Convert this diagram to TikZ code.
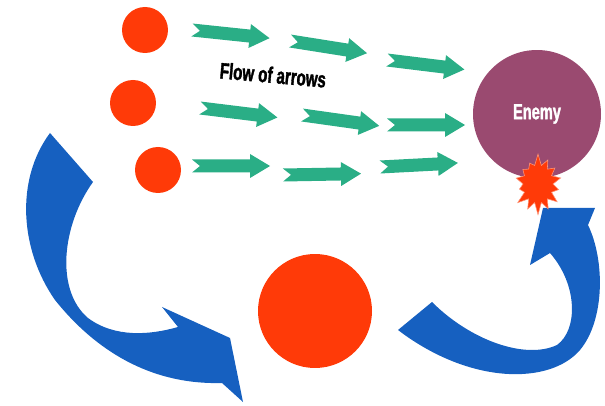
\documentclass[tikz,border=0pt]{standalone}
\usepackage{fontspec}
\usepackage{tikz}
\usetikzlibrary{shapes,shapes.symbols,positioning}
\newfontfamily\impactfont{Liberation Sans}[UprightFont={* Bold}, BoldFont={* Bold}, FakeStretch=0.67, FakeBold=1.5]
\definecolor{fireRed}{RGB}{255,58,8}
\definecolor{flowGreen}{RGB}{42,174,134}
\definecolor{enemyPurple}{RGB}{154,74,112}
\definecolor{loopBlue}{RGB}{22,96,192}
\definecolor{burstEdge}{RGB}{255,150,120}

\begin{document}
\begin{tikzpicture}[
    x=0.05cm, y=-0.05cm,
    dot/.style={circle, fill=fireRed, inner sep=0pt, minimum size=2.3cm},
    bigdot/.style={circle, fill=fireRed, inner sep=0pt, minimum size=5.7cm},
    enemy/.style={circle, fill=enemyPurple, inner sep=0pt, minimum size=6.4cm, text=white, font=\impactfont\fontsize{31}{34}\selectfont},
    burst/.style={starburst, starburst points=14, starburst point height=0.6cm, random starburst=7, fill=fireRed, draw=burstEdge, line width=0.8pt, minimum width=2.7cm, minimum height=3.1cm, inner sep=0pt},
    flowtext/.style={font=\impactfont\fontsize{32}{35}\selectfont, text=black},
    loopband/.style={fill=loopBlue},
    flowarrow/.pic={\fill[flowGreen] (0,-6.5) -- (58,-6.5) -- (58,-12) -- (78,0) -- (58,12) -- (58,6.5) -- (0,6.5) -- (8,0) -- cycle;}
]
    \useasboundingbox (0,0) rectangle (605,406);

    % Blue loop arrows
    \fill[loopband] (50,133) -- (93,182)
        .. controls (62,225) and (55,290) .. (88,318)
        .. controls (115,338) and (150,335) .. (178,327)
        -- (162,307) -- (230,338) -- (243,402) -- (222,383)
        .. controls (150,385) and (95,350) .. (55,300)
        .. controls (20,250) and (15,180) .. (50,133) -- cycle;
    \fill[loopband] (398,330) -- (432,302)
        .. controls (470,340) and (525,360) .. (557,345)
        .. controls (578,330) and (578,285) .. (550,253)
        -- (530,265) -- (543,208) -- (595,208) -- (588,225)
        .. controls (605,260) and (605,320) .. (580,350)
        .. controls (550,385) and (470,385) .. (398,330) -- cycle;

    % Shooters
    \node[dot] (dot1) at (145,30) {};
    \node[dot] (dot2) at (133,103) {};
    \node[dot] (dot3) at (158,170) {};
    \node[bigdot] (core) at (315,311) {};

    % Enemy
    \node[enemy] (enemy) at (537,114) {Enemy};
    \node[burst] (hit) at (538,184) {};

    % Flow of arrows
    \pic[rotate=-6] (r1a) at (192,30) {flowarrow};
    \pic[rotate=-9] (r1b) at (290,41) {flowarrow};
    \pic[rotate=-7] (r1c) at (387,60) {flowarrow};
    \pic[rotate=-7] (r2a) at (200,108) {flowarrow};
    \pic[rotate=-8] (r2b) at (302,115) {flowarrow};
    \pic (r2c) at (387,125) {flowarrow};
    \pic (r3a) at (192,166) {flowarrow};
    \pic[rotate=1] (r3b) at (283,175) {flowarrow};
    \pic[rotate=3] (r3c) at (380,167) {flowarrow};

    \node[flowtext, rotate=-5] (flow) at (273,75) {Flow of arrows};
\end{tikzpicture}
\end{document}
